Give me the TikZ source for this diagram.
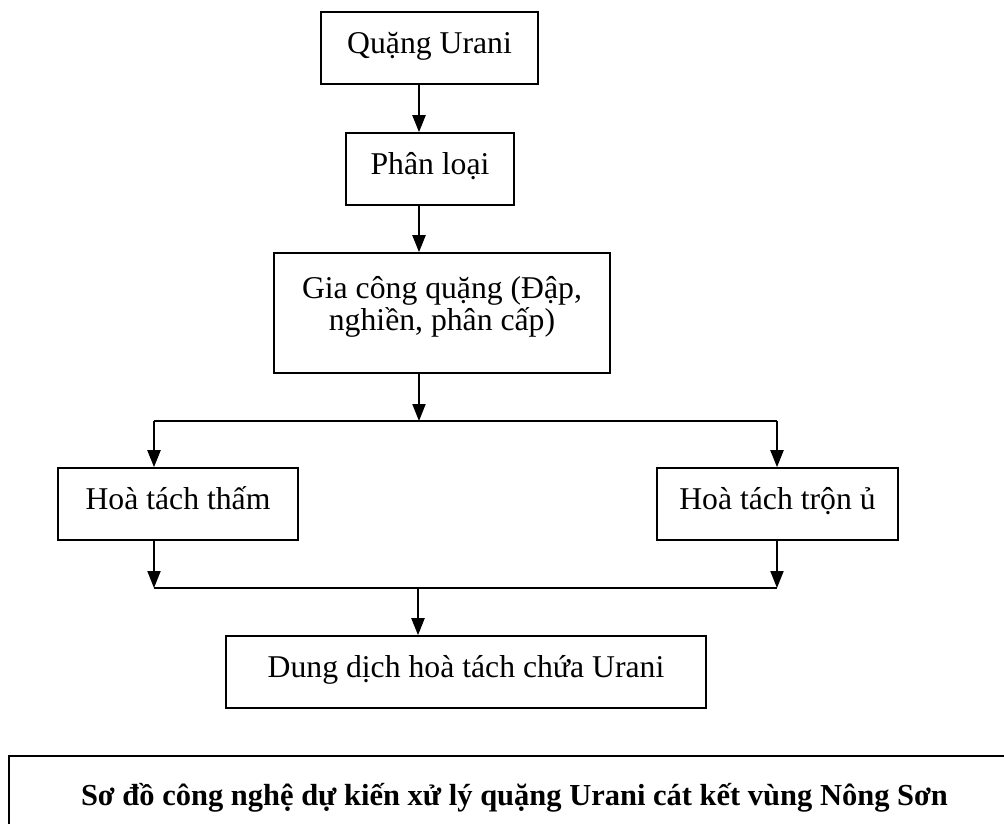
\documentclass[tikz,border=0pt]{standalone}
\usepackage{fontspec}
\setmainfont{Liberation Serif}
\usetikzlibrary{arrows.meta}

\begin{document}
\begin{tikzpicture}[x=1pt,y=-1pt,
    >={Triangle[width=13pt,length=17pt]},
    box/.style={draw,line width=1.6pt,inner sep=0pt,text height=41pt,text depth=31pt,
        minimum height=72pt,font=\fontsize{31.7}{32}\selectfont},
    flow/.style={line width=2pt}]
    \useasboundingbox (0,0) rectangle (1004,823);
    \clip (0,0) rectangle (1004,823);
    
    %Main chain
    \node[box,minimum width=217pt] (ore) at (429.5,48) {Quặng Urani};
    \node[box,minimum width=168pt] (sort) at (430,169) {Phân loại};
    \node[box,minimum width=336pt,minimum height=120pt,text height=45pt,text depth=75pt] (crush) at (442,313)
        {\begin{tabular}[t]{@{}c@{}}Gia công quặng (Đập,\\nghiền, phân cấp)\end{tabular}};
    \coordinate (spine) at (419,0);
    \draw[flow,->] (ore.south -| spine) -- (sort.north -| spine);
    \draw[flow,->] (sort.south -| spine) -- (crush.north -| spine);
    %Split
    \coordinate (split) at (419,421);
    \coordinate (lt) at (154,421);
    \coordinate (rt) at (777,421);
    \draw[flow,->] (crush.south -| spine) -- (split);
    \draw[flow] (lt) -- (rt);
    %Leaching
    \node[box,minimum width=240pt] (heap) at (178,504) {Hoà tách thấm};
    \node[box,minimum width=241pt] (mix) at (777.5,504) {Hoà tách trộn ủ};
    \draw[flow,->] (lt) -- (heap.north -| lt);
    \draw[flow,->] (rt) -- (mix.north -| rt);
    %Join
    \coordinate (lb) at (154,588);
    \coordinate (rb) at (777,588);
    \coordinate (join) at (418,588);
    \draw[flow,->] (heap.south -| lb) -- (lb);
    \draw[flow,->] (mix.south -| rb) -- (rb);
    \draw[flow] (lb) -- (rb);
    %Solution
    \node[box,minimum width=480pt] (sol) at (466,672) {Dung dịch hoà tách chứa Urani};
    \draw[flow,->] (join) -- (sol.north -| join);
    %Caption
    \node[draw,line width=1.6pt,inner sep=0pt,minimum width=1011pt,minimum height=100pt,
        text height=49pt,text depth=51pt,font=\fontsize{30.5}{32}\selectfont\bfseries] (title) at (514.5,806)
        {Sơ đồ công nghệ dự kiến xử lý quặng Urani cát kết vùng Nông Sơn};
\end{tikzpicture}
\end{document}
